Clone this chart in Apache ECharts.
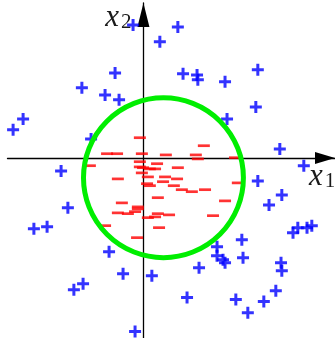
<!DOCTYPE html>
<html>
<head>
<meta charset="utf-8">
<script src="https://cdn.jsdelivr.net/npm/echarts@6/dist/echarts.min.js"></script>
<style>
  html, body { margin: 0; padding: 0; background: #ffffff; }
  #chart { width: 335px; height: 338px; }
</style>
</head>
<body>
<div id="chart"></div>
<script>
// Positive samples (class +), as [x1, x2]
const positiveX1 = [-0.26, 0.86, 0.41, -0.71, 0.99, 1.34, 1.36, 2.04, 2.86, -1.54, -0.96, -0.61, 2.81, -3.01, -3.26, 2.09, -1.31, 3.41, 4.01, -2.06, 2.86, 3.46, 3.14, -1.89, -2.41, -2.74, 3.74, 3.86, 4.09, 4.21, 2.46, 1.84, 1.84, 1.99, 2.04, 2.49, -0.86, 1.39, 3.44, 3.46, -0.51, 0.21, -1.51, -1.74, 1.09, 3.31, 2.31, 3.01, 2.61, -0.21];
const positiveX2 = [3.33, 3.28, 2.91, 2.13, 2.11, 2.08, 1.96, 1.91, 2.21, 1.76, 1.58, 1.46, 1.28, 0.98, 0.71, 0.98, 0.48, 0.23, -0.19, -0.32, -0.57, -0.92, -1.17, -1.24, -1.72, -1.77, -1.87, -1.74, -1.74, -1.69, -2.04, -2.22, -2.44, -2.54, -2.62, -2.49, -2.34, -2.74, -2.62, -2.82, -2.89, -2.94, -3.14, -3.29, -3.49, -3.32, -3.54, -3.59, -3.87, -4.34];

// Negative samples (class -), as [x1, x2]
const negativeX1 = [-0.09, -0.91, -0.66, -0.04, 0.56, 1.51, 1.31, 1.36, 2.29, -1.34, -0.09, -0.09, 0.34, -0.01, 0.16, 0.29, 0.86, -0.04, -0.64, 0.11, 0.54, 0.49, 0.84, 0.09, 0.16, 0.76, 0.96, 1.21, 1.54, 2.36, 0.36, 2.04, -0.54, -0.14, -0.14, -0.64, -0.39, -0.21, 0.11, 0.29, 0.36, 0.64, 1.74, -0.96, 0.39, -0.16];
const negativeX2 = [0.51, 0.11, 0.11, 0.11, 0.08, 0.31, 0.08, -0.02, 0.01, -0.19, -0.09, -0.22, -0.14, -0.24, -0.27, -0.27, -0.24, -0.37, -0.52, -0.47, -0.47, -0.59, -0.52, -0.64, -0.69, -0.69, -0.79, -0.84, -0.79, -0.62, -0.99, -1.07, -1.12, -1.22, -1.27, -1.37, -1.39, -1.34, -1.49, -1.47, -1.39, -1.42, -1.44, -1.69, -1.74, -1.99];

// Decision boundary: circle centre and radius
const boundaryCenter = [0.5, -0.49];
const boundaryRadius = 2.0;

// Axis names: italic variable with an upright subscript
const xAxisName = '{v|x}{s|1}';
const yAxisName = '{v|x}{s|2}';

const plusPath = 'path://M4.5,0H7.5V4.5H12V7.5H7.5V12H4.5V7.5H0V4.5H4.5Z';

const positives = positiveX1.map((v, i) => [v, positiveX2[i]]);
const negatives = negativeX1.map((v, i) => [v, negativeX2[i]]);

const chart = echarts.init(document.getElementById('chart'), null, { renderer: 'canvas' });

const nameRich = {
  v: { fontFamily: 'Liberation Serif', fontStyle: 'italic', fontSize: 31, lineHeight: 28, color: '#1a1a1a', verticalAlign: 'bottom' },
  s: { fontFamily: 'Liberation Serif', fontSize: 21, lineHeight: 0, color: '#1a1a1a', verticalAlign: 'bottom', padding: [0, 0, 0, 2] }
};

const axisCommon = {
  type: 'value',
  axisTick: { show: false },
  axisLabel: { show: false },
  splitLine: { show: false },
  axisLine: {
    show: true,
    onZero: true,
    lineStyle: { color: '#000000', width: 1.3 }
  }
};

chart.setOption({
  animation: false,
  backgroundColor: '#ffffff',
  grid: { left: 7.5, top: 3, right: 0, bottom: 0, containLabel: false, outerBoundsMode: 'none' },
  xAxis: Object.assign({}, axisCommon, {
    min: -3.4, max: 4.79,
    name: xAxisName,
    nameLocation: 'end',
    nameGap: -26,
    nameTextStyle: { align: 'left', verticalAlign: 'top', padding: [6, 0, 0, 0], rich: nameRich },
    axisLine: Object.assign({}, axisCommon.axisLine, {
      symbol: ['none', 'triangle'],
      symbolSize: [12, 20],
      symbolOffset: [0, -10]
    })
  }),
  yAxis: Object.assign({}, axisCommon, {
    min: -4.5, max: 3.88,
    name: yAxisName,
    nameLocation: 'end',
    nameGap: -30,
    nameTextStyle: { align: 'right', verticalAlign: 'bottom', padding: [0, 12, 0, 0], rich: nameRich },
    axisLine: Object.assign({}, axisCommon.axisLine, {
      symbol: ['none', 'triangle'],
      symbolSize: [12, 24],
      symbolOffset: [0, -12]
    })
  }),
  series: [
    {
      name: '+',
      type: 'scatter',
      data: positives,
      symbol: plusPath,
      symbolSize: 12,
      itemStyle: { color: '#0000ff' },
      z: 2
    },
    {
      name: '-',
      type: 'scatter',
      data: negatives,
      symbol: 'rect',
      symbolSize: [12, 2.7],
      itemStyle: { color: '#ff0000' },
      z: 2
    },
    {
      name: 'boundary',
      type: 'custom',
      data: [[boundaryCenter[0], boundaryCenter[1], boundaryRadius]],
      encode: { x: 0, y: 1 },
      clip: false,
      z: 3,
      renderItem: function (params, api) {
        const c = api.coord([api.value(0), api.value(1)]);
        const s = api.size([api.value(2), api.value(2)]);
        return {
          type: 'circle',
          shape: { cx: c[0], cy: c[1], r: (s[0] + s[1]) / 2 },
          style: { fill: 'none', stroke: '#00ee00', lineWidth: 5 }
        };
      }
    }
  ]
});
</script>
</body>
</html>
